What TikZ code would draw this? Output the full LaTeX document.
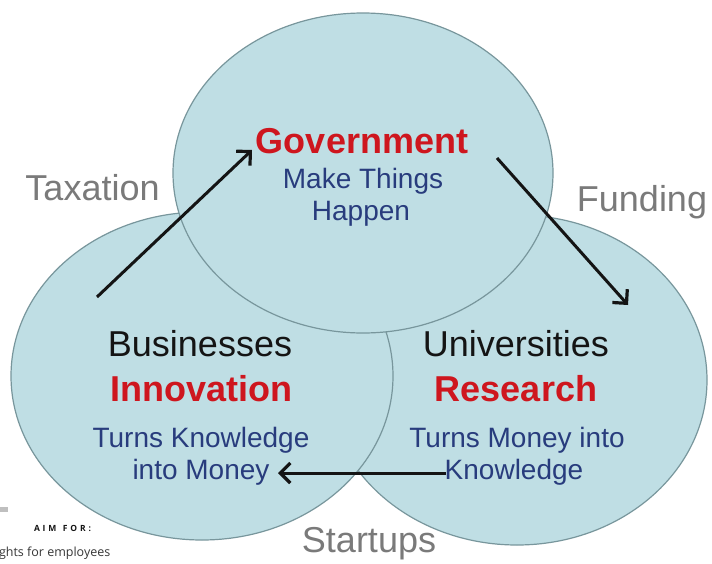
\documentclass[tikz,border=0pt]{standalone}
\usepackage{fontspec}
\setmainfont{Liberation Sans}
\newfontfamily\opensans{Open Sans}
\usetikzlibrary{arrows.meta}
\definecolor{fillc}{RGB}{191,222,228}
\definecolor{edgec}{RGB}{120,150,156}
\definecolor{redc}{RGB}{206,22,30}
\definecolor{bluec}{RGB}{40,60,125}
\definecolor{grayc}{RGB}{122,122,122}
\definecolor{blackc}{RGB}{20,20,20}
\begin{document}
\begin{tikzpicture}[x=1pt,y=-1pt,
  blob/.style={fill=fillc,draw=edgec,line width=1.2pt},
  txt/.style={anchor=base,inner sep=0pt,outer sep=0pt},
  side/.style={txt,text=grayc,font=\fontsize{36}{40}\selectfont},
  head/.style={txt,text=blackc,font=\fontsize{36}{40}\selectfont},
  key/.style={txt,text=redc,font=\bfseries\fontsize{36}{40}\selectfont},
  desc/.style={txt,text=bluec,font=\fontsize{28}{32}\selectfont},
  flow/.style={line width=3pt,draw=blackc,-{Straight Barb[length=10pt,width=20pt,line width=3.2pt]}}
]
\useasboundingbox (0,0) rectangle (712,563);
\fill[white] (0,0) rectangle (712,563);
% circles
\draw[blob] (517,380) ellipse [x radius=190, y radius=165];
\draw[blob] (202,376) ellipse [x radius=191, y radius=164];
\draw[blob] (363,173) ellipse [x radius=190, y radius=160];
% government
\node[key] (gov) at (362,153) {Government};
\node[desc] (gov1) at (363,188) {Make Things};
\node[desc] (gov2) at (361,220) {Happen};
% businesses
\node[head] (bus) at (200,356) {Businesses};
\node[key] (inn) at (201,401) {Innovation};
\node[desc] (bus1) at (201,447) {Turns Knowledge};
\node[desc] (bus2) at (201,479) {into Money};
% universities
\node[head] (uni) at (516,356) {Universities};
\node[key] (res) at (516,401) {Research};
\node[desc] (uni1) at (517,447) {Turns Money into};
\node[desc] (uni2) at (514,479) {Knowledge};
% side labels
\node[side] (tax) at (92.5,200) {Taxation};
\node[side] (fund) at (642,211) {Funding};
\node[side] (start) at (369,552) {Startups};
% arrows
\coordinate (t0) at (97,297);
\coordinate (t1) at (252,150);
\coordinate (f0) at (497,158);
\coordinate (f1) at (628,305);
\coordinate (s0) at (446,473);
\coordinate (s1) at (278,473);
\draw[flow] (t0) -- (t1);
\draw[flow] (f0) -- (f1);
\draw[flow] (s0) -- (s1);
% bottom-left fragment
\fill[gray!50] (0,507) rectangle (8,512);
\node[txt,anchor=base west,text=blackc,font=\opensans\bfseries\fontsize{8.5}{10}\selectfont] (aim) at (34,531) {A\,\,I\,\,M\ \ \ F\,\,O\,\,R\,\,:};
\node[txt,anchor=base west,text=blackc!85,font=\opensans\fontsize{12.5}{14}\selectfont] (emp) at (-1,556) {ghts for employees};
\end{tikzpicture}
\end{document}
